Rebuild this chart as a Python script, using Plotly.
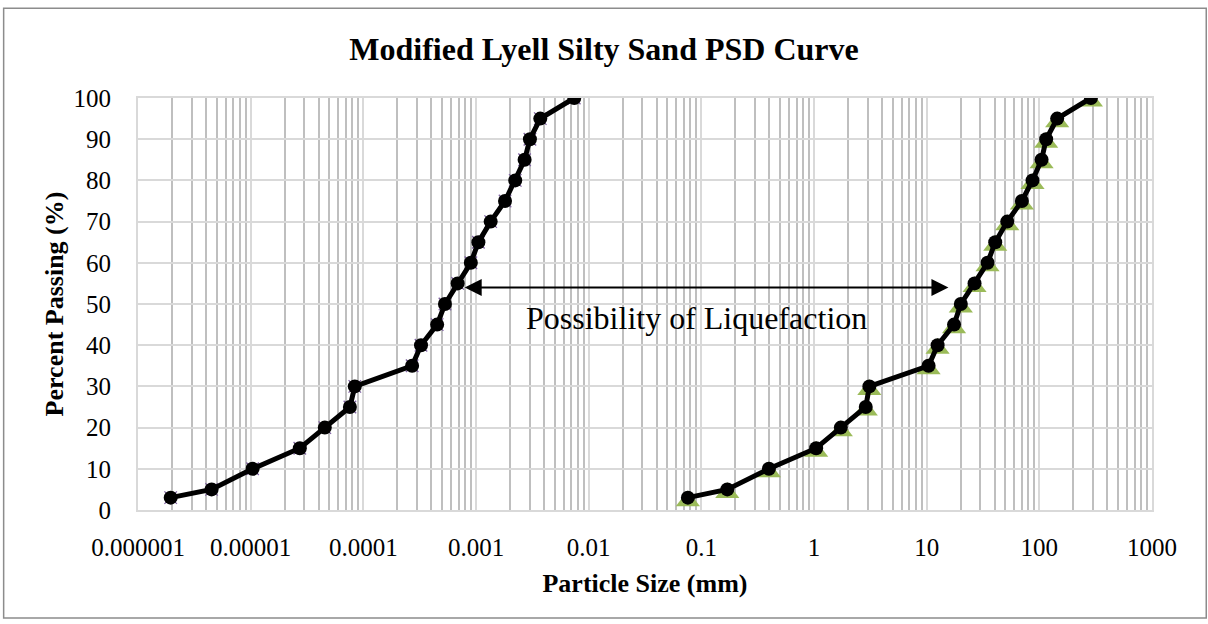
import math
import plotly.graph_objects as go

# Percent passing shared by both gradation curves
percent_passing = [3, 5, 10, 15, 20, 25, 30, 35, 40, 45, 50,
                   55, 60, 65, 70, 75, 80, 85, 90, 95, 100]

# Fine-side boundary curve (particle size, mm)
size_fine = [1.95e-6, 4.5e-6, 1.04e-5, 2.73e-5, 4.55e-5, 7.6e-5, 8.4e-5,
             2.71e-4, 3.25e-4, 4.52e-4, 5.3e-4, 6.87e-4, 9.0e-4, 1.05e-3,
             1.35e-3, 1.81e-3, 2.23e-3, 2.7e-3, 3.01e-3, 3.72e-3, 7.45e-3]

# Coarse-side boundary curve (particle size, mm)
size_coarse = [0.076, 0.170, 0.398, 1.045, 1.73, 2.88, 3.1,
               10.4, 12.5, 17.5, 20.1, 26.6, 34.7, 40.6,
               51.9, 70.0, 87.0, 104.7, 115.0, 144.0, 287.0]

x_tick_vals = [1e-6, 1e-5, 1e-4, 1e-3, 1e-2, 1e-1, 1, 10, 100, 1000]
x_tick_text = ["0.000001", "0.00001", "0.0001", "0.001", "0.01",
               "0.1", "1", "10", "100", "1000"]
y_tick_vals = [0, 10, 20, 30, 40, 50, 60, 70, 80, 90, 100]

# Liquefaction band arrow (mm) at the given percent passing
arrow_from, arrow_to, arrow_level = 7.7e-4, 15.6, 54

SERIF = "Liberation Serif, Times New Roman, serif"
MAJOR_GRID = "#d9d9d9"
MINOR_GRID = "#bfbfbf"

fig = go.Figure()

# Green triangle markers sit on their own overlay so they render beneath the circles
fig.add_trace(go.Scatter(
    x=size_coarse, y=percent_passing, mode="markers", yaxis="y2",
    marker=dict(symbol="triangle-up", size=21, color="#9BBB59"),
    showlegend=False, hoverinfo="skip"))

fig.add_trace(go.Scatter(
    x=size_fine, y=percent_passing, mode="markers", yaxis="y3",
    marker=dict(symbol="x-thin", size=12.5, line=dict(color="#8064A2", width=1.3)),
    showlegend=False, hoverinfo="skip"))

for sizes in (size_fine, size_coarse):
    fig.add_trace(go.Scatter(
        x=sizes, y=percent_passing, mode="lines+markers", yaxis="y3",
        line=dict(color="black", width=5),
        marker=dict(symbol="circle", size=14, color="black"),
        showlegend=False))

fig.add_annotation(
    x=math.log10(arrow_to), y=arrow_level, xref="x", yref="y",
    ax=math.log10(arrow_from), ay=arrow_level, axref="x", ayref="y",
    text="", showarrow=True, arrowside="end+start",
    arrowhead=2, startarrowhead=2, arrowsize=1.7, startarrowsize=1.7,
    arrowwidth=2, arrowcolor="black", standoff=0, startstandoff=0)

fig.add_annotation(
    x=0.551, y=0.466, xref="paper", yref="paper",
    text="Possibility of Liquefaction", showarrow=False,
    font=dict(family=SERIF, size=32, color="black"),
    xanchor="center", yanchor="middle")

# Chart frame
fig.add_shape(type="rect", xref="paper", yref="paper",
              x0=-0.1325, x1=1.0535, y0=-0.262, y1=1.218,
              line=dict(color="#8c8c8c", width=1.5), layer="below")

axis_font = dict(family=SERIF, size=25, color="black")
title_font = dict(family=SERIF, size=26, color="black")

fig.update_layout(
    width=1208, height=624,
    margin=dict(l=138, r=56, t=98, b=114),
    paper_bgcolor="white", plot_bgcolor="white",
    title=dict(text="<b>Modified Lyell Silty Sand PSD Curve</b>",
               x=0.5, xref="container", xanchor="center",
               y=1 - 49 / 624, yref="container", yanchor="middle",
               font=dict(family=SERIF, size=32, color="black")),
    xaxis=dict(type="log", range=[-6, 3],
               tickvals=x_tick_vals, ticktext=x_tick_text,
               tickfont=axis_font, ticks="", ticklabelstandoff=14,
               showgrid=True, gridcolor=MAJOR_GRID, gridwidth=2,
               minor=dict(dtick="D1", showgrid=True, gridcolor=MINOR_GRID, gridwidth=2),
               showline=True, linecolor=MAJOR_GRID, linewidth=2, mirror=True,
               zeroline=False,
               title=dict(text="<b>Particle Size (mm)</b>", font=title_font, standoff=14)),
    yaxis=dict(range=[0, 100], tickvals=y_tick_vals,
               tickfont=axis_font, ticks="", ticklabelstandoff=20,
               showgrid=True, gridcolor=MAJOR_GRID, gridwidth=2,
               showline=True, linecolor=MAJOR_GRID, linewidth=2, mirror=True,
               zeroline=False,
               title=dict(text="<b>Percent Passing (%)</b>", font=title_font, standoff=2)),
    yaxis2=dict(overlaying="y", range=[0.8, 100.8], visible=False),
    yaxis3=dict(overlaying="y", range=[0, 100], visible=False),
)

fig.write_html("out.html")
